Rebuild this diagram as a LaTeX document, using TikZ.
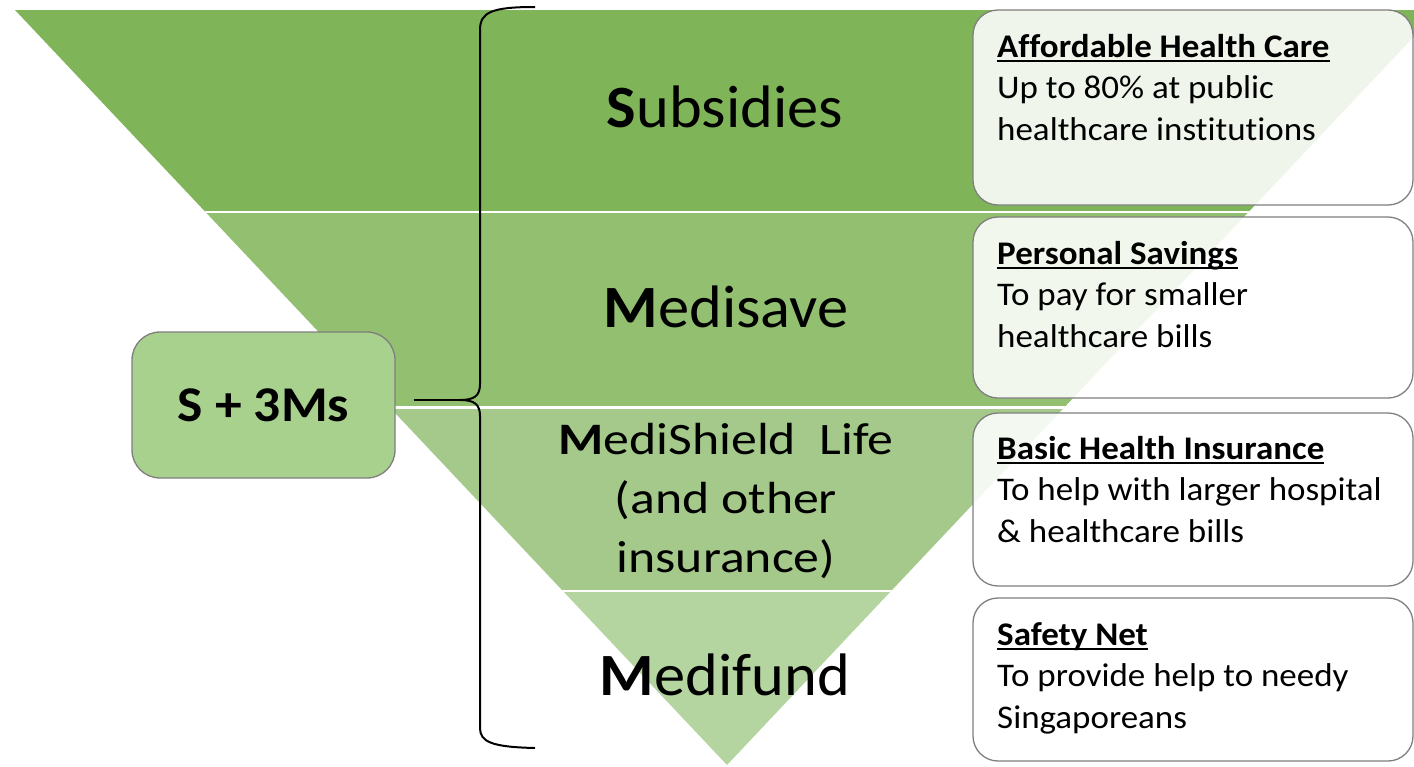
\documentclass[tikz,border=0pt]{standalone}
\usepackage{fontspec}
\setmainfont{Carlito}
\newfontfamily\boxfont{Carlito}[FakeStretch=1.06,Ligatures=NoCommon]
\newfontfamily\bigfont{Carlito}[FakeStretch=1.04,Ligatures=NoCommon]
\newfontfamily\shieldfont{Carlito}[FakeStretch=1.15,Ligatures=NoCommon]
\newfontfamily\sfont{Carlito}[FakeStretch=1.07]
\definecolor{bandA}{HTML}{7FB458}
\definecolor{bandB}{HTML}{92BF70}
\definecolor{bandC}{HTML}{A4C98A}
\definecolor{bandD}{HTML}{B5D5A0}
\definecolor{sboxfill}{HTML}{A9D18E}
\definecolor{edgegray}{HTML}{7F7F7F}
\newcommand\myul[1]{\setbox0\hbox{#1}\rlap{\rule[-4.5pt]{\wd0}{1.8pt}}\box0}
\begin{document}
\begin{tikzpicture}[x=1pt,y=-1pt,
  infobox/.style={draw=edgegray,line width=1.3pt,fill=white,fill opacity=0.88,rounded corners=25pt,minimum width=440pt,inner sep=0pt},
  infotext/.style={anchor=base west,inner sep=0pt,align=left,font=\boxfont\fontsize{33}{41.5}\selectfont},
  biglabel/.style={anchor=base,inner sep=0pt,font=\bigfont\fontsize{60}{60}\selectfont},
  midlabel/.style={anchor=base,inner sep=0pt,align=center,font=\shieldfont\fontsize{45}{59}\selectfont},
  sepline/.style={white,line width=2.5pt}]
\useasboundingbox (0,0) rectangle (1414,766);
\fill[white] (0,0) rectangle (1414,766);
\clip (0,0) rectangle (1414,766);
% funnel
\begin{scope}
\clip (15,10) -- (1439,10) -- (727,765) -- cycle;
\fill[bandA] (0,10) rectangle (1450,212);
\fill[bandB] (0,212) rectangle (1450,407.5);
\fill[bandC] (0,407.5) rectangle (1450,591);
\fill[bandD] (0,591) rectangle (1450,770);
\draw[sepline] (0,212) -- (1450,212);
\draw[sepline] (0,407.5) -- (1450,407.5);
\draw[sepline] (0,591) -- (1450,591);
\end{scope}
% labels in funnel
\node[biglabel] (lsub) at (725,127) {\textbf{S}ubsidies};
\node[biglabel] (lmed) at (726,327) {\textbf{M}edisave};
\node[midlabel] (lshield) at (726,572) {\textbf{M}ediShield\ \ Life\\(and other\\insurance)};
\node[biglabel] (lfund) at (725,695) {\textbf{M}edifund};
% info boxes
\node[infobox,minimum height=195pt] (b1) at (1193,107.5) {};
\node[infobox,minimum height=181pt] (b2) at (1193,307.5) {};
\node[infobox,minimum height=173pt] (b3) at (1193,499.5) {};
\node[infobox,minimum height=163pt] (b4) at (1193,679.5) {};
\node[infotext] (t1) at (997,140) {\myul{\textbf{Affordable Health Care}}\\Up to 80\% at public\\healthcare institutions};
\node[infotext] (t2) at (997,347) {\myul{\textbf{Personal Savings}}\\To pay for smaller\\healthcare bills};
\node[infotext] (t3) at (997,542) {\myul{\textbf{Basic Health Insurance}}\\To help with larger hospital\\\& healthcare bills};
\node[infotext] (t4) at (997,728) {\myul{\textbf{Safety Net}}\\To provide help to needy\\Singaporeans};
% S + 3Ms box
\node[draw=edgegray,line width=1.3pt,fill=sboxfill,rounded corners=28pt,minimum width=263pt,minimum height=146pt,inner sep=0pt,font=\sfont\fontsize{50}{50}\selectfont\bfseries] (sbox) at (263.5,405) {S + 3Ms};
% brace
\coordinate (tip) at (460,400);
\coordinate (btop) at (535,7);
\coordinate (bbot) at (535,748);
\draw[line width=2pt] (btop) .. controls (492,7) and (480,12) .. (480,30) -- (480,384)
  .. controls (480,396) and (474,400) .. (tip)
  .. controls (474,400) and (480,404) .. (480,416) -- (480,728)
  .. controls (480,742) and (492,747) .. (bbot);
\draw[line width=2pt] ([xshift=18pt,yshift=5pt]sbox.east) -- (tip);
\end{tikzpicture}
\end{document}
